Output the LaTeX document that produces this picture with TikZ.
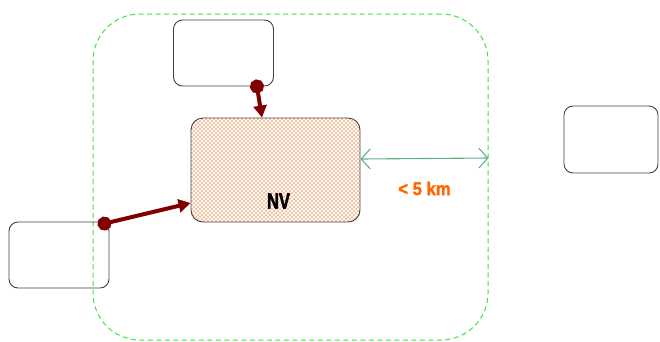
\documentclass[tikz,border=0pt]{standalone}
\usepackage{fontspec}
\setmainfont{Liberation Sans}
\newfontfamily\condfont[FakeStretch=0.75,FakeBold=2]{Liberation Sans}
\newfontfamily\kmfont[FakeStretch=0.9,FakeBold=1.5]{Liberation Sans}
\usetikzlibrary {arrows.meta, positioning, patterns}
\definecolor{darkred}{RGB}{128,0,0}
\definecolor{spangreen}{RGB}{96,178,128}
\definecolor{zonegreen}{RGB}{60,230,60}
\definecolor{dotorange}{RGB}{250,110,30}
\definecolor{kmorange}{RGB}{255,102,0}
% staggered dots, as in the reference fill
\pgfdeclarepatternformonly{nvdots}{\pgfqpoint{-1pt}{-1pt}}{\pgfqpoint{5pt}{5pt}}{\pgfqpoint{4pt}{4pt}}{
  \pgfpathrectangle{\pgfqpoint{-0.6pt}{-0.6pt}}{\pgfqpoint{1.2pt}{1.2pt}}
  \pgfpathrectangle{\pgfqpoint{1.4pt}{1.4pt}}{\pgfqpoint{1.2pt}{1.2pt}}
  \pgfusepath{fill}
}

\begin{document}
\begin{tikzpicture}[
        x=1pt, y=-1pt, node distance=2cm, on grid,
        box/.style={draw=black!75, line width=0.9pt, rounded corners=9pt,
          inner sep=0pt, minimum width=100pt, minimum height=66pt},
        zone/.style={draw=zonegreen, line width=1pt, dash pattern=on 5pt off 3.5pt,
          rounded corners=47pt, inner sep=0pt, minimum width=395pt, minimum height=326pt},
        link/.style={draw=darkred, line width=4pt, shorten <=-7pt,
          {Circle[length=14pt]}-{Triangle[length=12pt,width=13pt]}},
        span/.style={draw=spangreen, line width=1.1pt,
          {Straight Barb[length=9pt,width=20pt]}-{Straight Barb[length=9pt,width=20pt]}}
        ]
        \useasboundingbox (0,0) rectangle (660,341);

        \node[zone]                       (zone) at (290.5,177)  {};
        \node[box, minimum width=169pt, minimum height=104pt, rounded corners=12pt,
              pattern=nvdots, pattern color=dotorange]
                                          (nv)   at (275.5,170)  {};
        \node[box]                        (top)  [above left=117pt and 52pt of nv]    {};
        \node[box]                        (left) [below left=85pt and 216.5pt of nv]  {};
        \node[box, minimum width=94pt, minimum height=67pt]
                                          (right) [above right=30.5pt and 335.5pt of nv] {};

        \node[font=\condfont\bfseries\fontsize{22}{22}\selectfont]
                                          (nvtext) at ([xshift=3pt,yshift=-31pt]nv.center) {NV};
        \node[font=\kmfont\bfseries\fontsize{18.5}{18.5}\selectfont, text=kmorange]
                                          (dist) at (424.5,188.5) {< 5 km};

        \path[link] ([xshift=-17pt]top.south east) -- ([xshift=-13.5pt]nv.north);
        \path[link] ([xshift=-5pt,yshift=-2pt]left.north east) -- ([yshift=-33pt]nv.west);
        \path[span] ([yshift=11pt]nv.east) -- ([yshift=19pt]zone.east);
      \end{tikzpicture}
\end{document}
